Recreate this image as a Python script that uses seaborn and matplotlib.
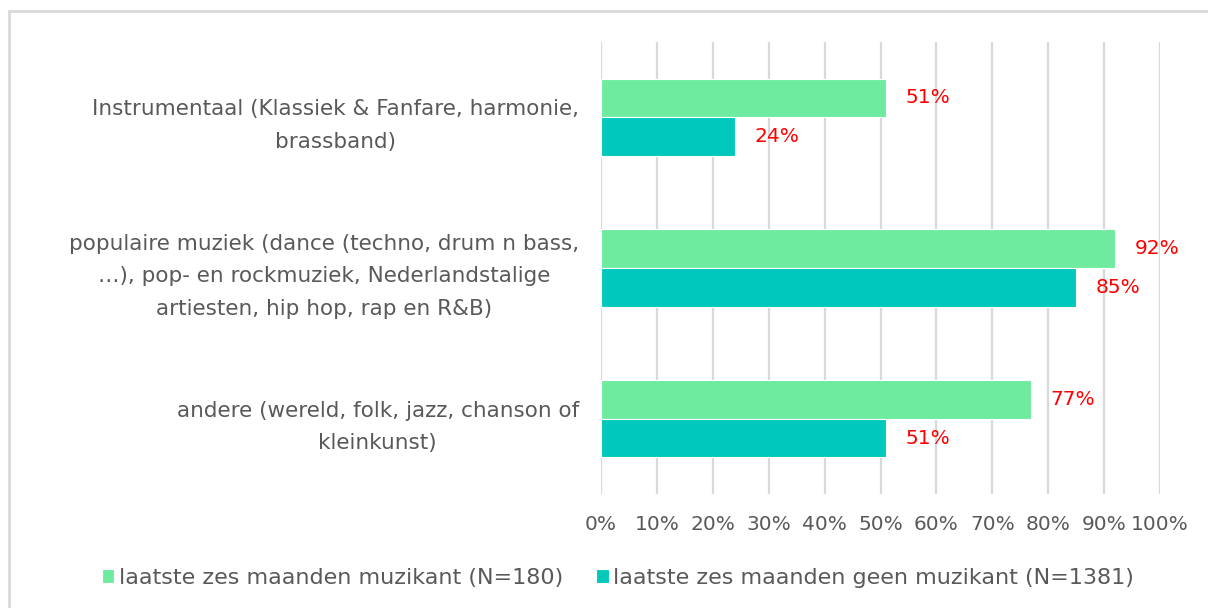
import matplotlib
matplotlib.use("Agg")
import matplotlib.pyplot as plt
import seaborn as sns
import pandas as pd
from matplotlib.patches import Rectangle

categories = [
    "Instrumentaal (Klassiek & Fanfare, harmonie,\nbrassband)",
    "populaire muziek (dance (techno, drum n bass,\n…), pop- en rockmuziek, Nederlandstalige\nartiesten, hip hop, rap en R&B)",
    "andere (wereld, folk, jazz, chanson of\nkleinkunst)",
]
series_names = [
    "laatste zes maanden muzikant (N=180)",
    "laatste zes maanden geen muzikant (N=1381)",
]
muzikant = [51, 92, 77]
geen_muzikant = [24, 85, 51]
xticks = [0, 10, 20, 30, 40, 50, 60, 70, 80, 90, 100]
colors = ["#6FEBA0", "#00C8BC"]

df = pd.DataFrame({
    "categorie": categories * 2,
    "groep": [series_names[0]] * 3 + [series_names[1]] * 3,
    "waarde": muzikant + geen_muzikant,
})

sns.set_theme(style="white")
plt.rcParams["font.family"] = ["DejaVu Sans"]

fig = plt.figure(figsize=(12.08, 6.08), dpi=100)
ax = fig.add_axes([601 / 1208, 1 - 494 / 608, 559 / 1208, 452 / 608])

# outer chart frame
fig.patches.append(Rectangle((9 / 1208, -0.1), 1.2, 1 - 11 / 608 + 0.1,
                             transform=fig.transFigure, fill=False,
                             edgecolor="#D9D9D9", linewidth=2, zorder=0))

sns.barplot(data=df, y="categorie", x="waarde", hue="groep", order=categories,
            hue_order=series_names, palette=colors, saturation=1, width=0.515,
            orient="h", edgecolor="white", linewidth=0.8, ax=ax, legend=True,
            zorder=3)

ax.set_xlim(0, 100)
ax.set_xticks(xticks)
ax.set_xticklabels([f"{t}%" for t in xticks], color="#595959", fontsize=14.5)
ax.tick_params(axis="x", length=0, pad=15)
ax.tick_params(axis="y", length=0, pad=16)
for lbl in ax.get_yticklabels():
    lbl.set_multialignment("center")
    lbl.set_color("#595959")
    lbl.set_fontsize(15.5)
    lbl.set_linespacing(1.78)
ax.set_xlabel("")
ax.set_ylabel("")
ax.grid(axis="x", color="#D9D9D9", linewidth=1.6, zorder=0)
ax.set_axisbelow(True)
for s in ax.spines.values():
    s.set_visible(False)

for cont in ax.containers:
    ax.bar_label(cont, labels=[f"{v:.0f}%" for v in cont.datavalues],
                 padding=14, color="#FF0000", fontsize=14.5)

handles, labels = ax.get_legend_handles_labels()
ax.legend_.remove()
fig.legend(handles, labels, loc="center", bbox_to_anchor=(618 / 1208, 1 - 578 / 608),
           ncol=2, frameon=False, fontsize=16, handlelength=0.55, handleheight=0.55,
           handletextpad=0.2, columnspacing=1.5, labelcolor="#595959")

fig.savefig("out.png", dpi=100)
